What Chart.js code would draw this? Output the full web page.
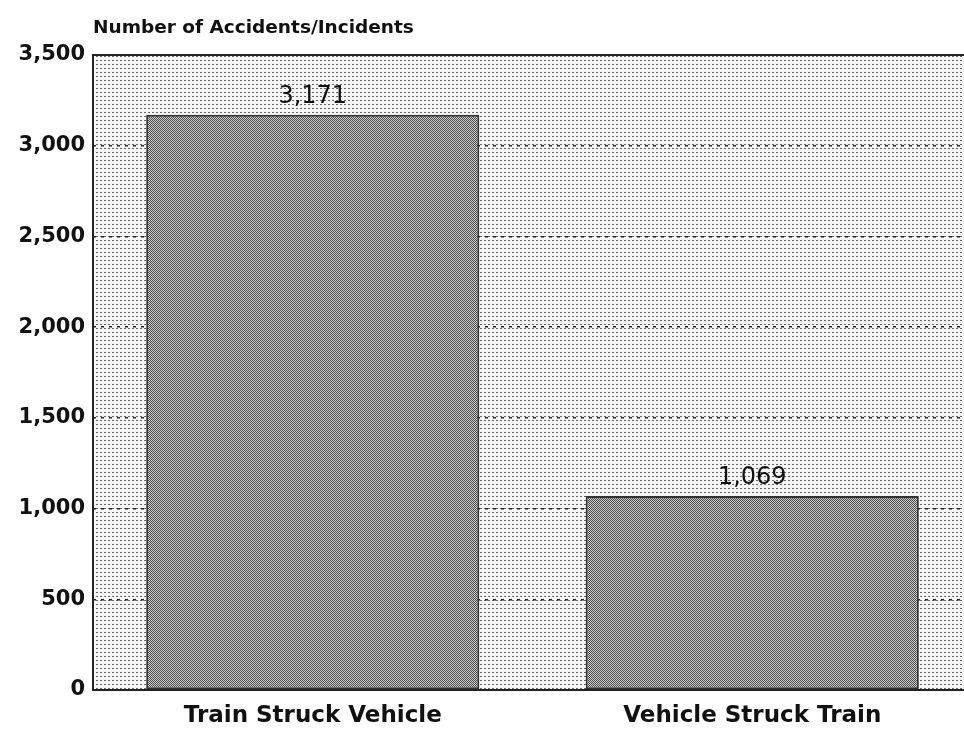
<!DOCTYPE html>
<html>
<head>
<meta charset="utf-8">
<script src="https://cdn.jsdelivr.net/npm/chart.js@4"></script>
<style>
  html, body { margin: 0; padding: 0; background: #fff; overflow: hidden; }
  #wrap { width: 972px; height: 734px; }
</style>
</head>
<body>
<div id="wrap"><canvas id="chart" width="972" height="734"></canvas></div>
<script>
// accidents / incidents by type
const categories = ['Train Struck Vehicle', 'Vehicle Struck Train'];
const counts = [3171, 1069];
const yTicks = [0, 500, 1000, 1500, 2000, 2500, 3000, 3500];
const axisTitle = 'Number of Accidents/Incidents';

// small halftone-like patterns
function makePattern(size, draw) {
  const c = document.createElement('canvas');
  c.width = size; c.height = size;
  const g = c.getContext('2d');
  draw(g);
  return document.getElementById('chart').getContext('2d').createPattern(c, 'repeat');
}
const bgPattern = makePattern(4, g => {
  g.fillStyle = '#f6f6f6'; g.fillRect(0, 0, 4, 4);
  g.fillStyle = '#666'; g.fillRect(0, 0, 2, 1);
});
const barPattern = makePattern(2, g => {
  g.fillStyle = '#cacaca'; g.fillRect(0, 0, 2, 2);
  g.fillStyle = '#4e4e4e'; g.fillRect(0, 0, 1, 1); g.fillRect(1, 1, 1, 1);
});

const fmt = v => v.toLocaleString('en-US');

const framePlugin = {
  id: 'frame',
  beforeDraw(chart) {
    const { ctx, chartArea: a } = chart;
    ctx.save();
    ctx.fillStyle = bgPattern;
    ctx.fillRect(a.left, a.top, a.right - a.left, a.bottom - a.top);
    ctx.restore();
  },
  afterDraw(chart) {
    const { ctx, chartArea: a } = chart;
    ctx.save();
    ctx.strokeStyle = '#222';
    ctx.lineWidth = 2;
    ctx.beginPath();
    ctx.moveTo(a.right, a.top);
    ctx.lineTo(a.left, a.top);
    ctx.lineTo(a.left, a.bottom);
    ctx.lineTo(a.right, a.bottom);
    ctx.stroke();
    // axis title, top left
    ctx.fillStyle = '#111';
    ctx.font = 'bold 18.5px "DejaVu Sans"';
    ctx.textAlign = 'left';
    ctx.textBaseline = 'middle';
    ctx.fillText(axisTitle, a.left, 28);
    // value labels above bars
    ctx.font = '24px "DejaVu Sans"';
    ctx.textAlign = 'center';
    ctx.textBaseline = 'bottom';
    chart.getDatasetMeta(0).data.forEach((bar, i) => {
      ctx.fillText(fmt(counts[i]), bar.x, bar.y - 6);
    });
    ctx.restore();
  }
};

new Chart(document.getElementById('chart'), {
  type: 'bar',
  data: {
    labels: categories,
    datasets: [{
      data: counts,
      backgroundColor: barPattern,
      borderColor: '#333',
      borderWidth: 2,
      borderSkipped: false,
      categoryPercentage: 1.0,
      barPercentage: 0.758
    }]
  },
  options: {
    responsive: false,
    animation: false,
    layout: { padding: { top: 55, right: 0, left: 0, bottom: 0 } },
    plugins: { legend: { display: false }, tooltip: { enabled: false } },
    scales: {
      x: {
        grid: { display: false, drawTicks: false },
        border: { display: false },
        ticks: { color: '#111', font: { family: 'DejaVu Sans', size: 23, weight: 'bold' }, padding: 12 },
        afterFit(s) { s.height = 44; }
      },
      y: {
        min: 0,
        max: 3500,
        afterBuildTicks(s) { s.ticks = yTicks.map(v => ({ value: v })); },
        grid: {
          color: ctx => (ctx.tick && (ctx.tick.value === 0 || ctx.tick.value === 3500)) ? 'rgba(0,0,0,0)' : '#222',
          lineWidth: 1.5,
          drawTicks: false
        },
        border: { display: false, dash: [3, 5] },
        ticks: {
          color: '#111',
          font: { family: 'DejaVu Sans', size: 21, weight: 'bold' },
          padding: 8,
          callback: v => fmt(v)
        },
        afterFit(s) { s.width = 93; }
      }
    }
  },
  plugins: [framePlugin]
});
</script>
</body>
</html>
